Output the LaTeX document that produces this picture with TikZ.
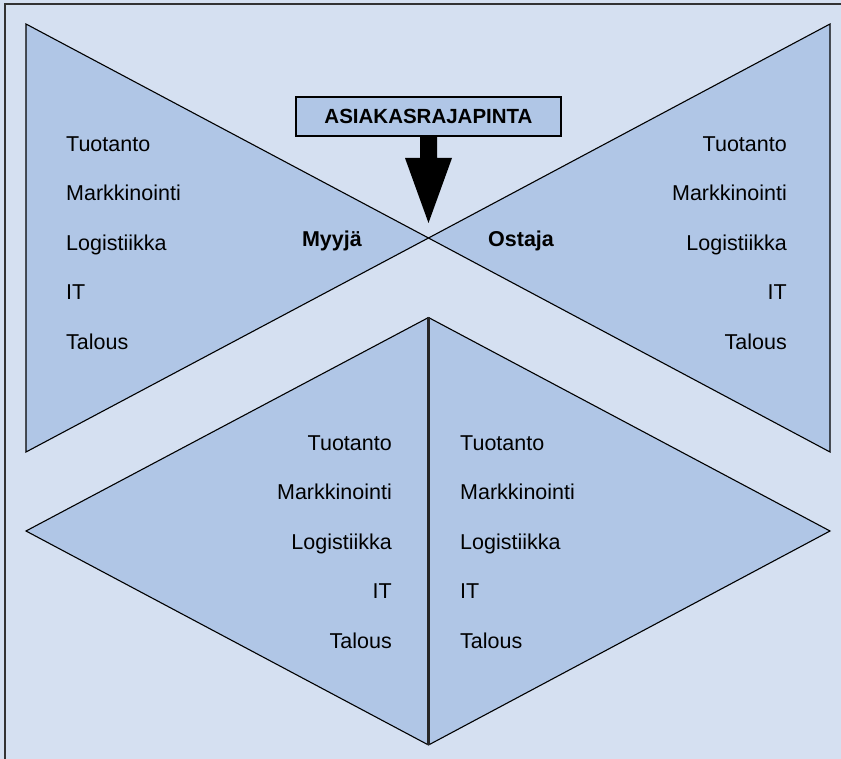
\documentclass[tikz,border=0pt]{standalone}
\usepackage{fontspec}
\setmainfont{Liberation Sans}
\definecolor{bgblue}{RGB}{213,224,241}
\definecolor{panelblue}{RGB}{176,198,230}
\begin{document}
\begin{tikzpicture}[x=1pt,y=-1pt,
  panel/.style={fill=panelblue,draw=black,line width=1.1pt,line join=miter},
  item/.style={font=\fontsize{21.5}{24}\selectfont,inner sep=0pt,text=black},
  party/.style={font=\fontsize{21.5}{24}\selectfont\bfseries,inner sep=0pt,text=black},
  ifacebox/.style={fill=panelblue,draw=black,line width=1.1pt,minimum width=265pt,minimum height=39pt,inner sep=0pt,
    font=\fontsize{20.5}{24}\selectfont\bfseries}]
\useasboundingbox (0,0) rectangle (841,759);
% page background and frame
\fill[bgblue] (0,0) rectangle (841,759);
\draw[line width=2pt,draw=black!80] (4.5,759) -- (4.5,4.5) -- (841,4.5);

% corner points of the panels
\coordinate (cross) at (428.5,238);
\coordinate (dtop) at (428.5,317.5);
\coordinate (dbot) at (428.5,745);

% seller and buyer triangles meeting at the interface point
\draw[panel] (26,24) -- (26,452) -- (cross) -- cycle;
\draw[panel] (830,24) -- (830,452) -- (cross) -- cycle;

% lower diamond split in two halves
\draw[panel] (26,531) -- (dtop) -- (830,531) -- (dbot) -- cycle;
\draw[line width=2.2pt,draw=black!85] (dtop) -- (dbot);

% customer interface box with arrow pointing at the meeting point
\node[ifacebox] (iface) at (428.5,116.5) {ASIAKASRAJAPINTA};
\fill[black] (iface.south -| 420,0) -- (420,158) -- (405,158) -- (428.5,223)
  -- (452,158) -- (437,158) -- (iface.south -| 437,0) -- cycle;

% party labels
\node[party,anchor=base east] (myyja) at (362,247) {Myyjä};
\node[party,anchor=base west] (ostaja) at (488,247) {Ostaja};

% function lists
\foreach \t [count=\i] in {Tuotanto,Markkinointi,Logistiikka,IT,Talous} {
  \pgfmathsetmacro{\yu}{151.5+49.4*(\i-1)}
  \pgfmathsetmacro{\yl}{450+49.5*(\i-1)}
  \node[item,anchor=base west] (sl\i) at (66,\yu) {\t};
  \node[item,anchor=base east] (br\i) at (787,\yu) {\t};
  \node[item,anchor=base east] (ls\i) at (392,\yl) {\t};
  \node[item,anchor=base west] (rs\i) at (460,\yl) {\t};
}
\end{tikzpicture}
\end{document}
